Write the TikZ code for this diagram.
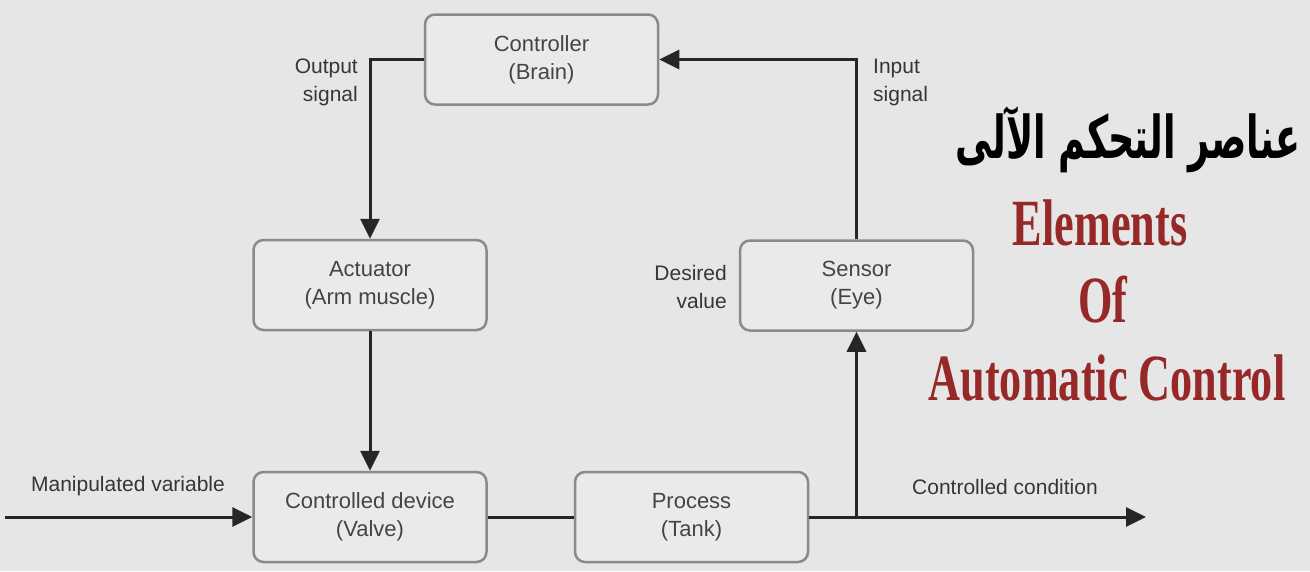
\documentclass[tikz,border=0pt]{standalone}
\usepackage{fontspec}
\setmainfont{Liberation Sans}
\newfontfamily\titlefont{Liberation Serif}
\newfontfamily\arabicfont[Script=Arabic]{DejaVu Sans}
\TeXXeTstate=1
\usetikzlibrary{arrows.meta}
\definecolor{bg}{HTML}{E6E6E6}
\definecolor{boxfill}{HTML}{EAEAEA}
\definecolor{boxline}{HTML}{8A8A8A}
\definecolor{boxtext}{HTML}{444444}
\definecolor{lbltext}{HTML}{363636}
\definecolor{wire}{HTML}{262626}
\definecolor{titlered}{HTML}{962828}
\tikzset{
  blockbox/.style={draw=boxline, fill=boxfill, line width=2.5pt, rounded corners=10pt,
    minimum width=233pt, minimum height=90pt, align=center, text=boxtext,
    font=\fontsize{22}{28}\selectfont, inner sep=0pt},
  lbl/.style={text=lbltext, font=\fontsize{21}{28}\selectfont, inner sep=0pt},
  wireline/.style={draw=wire, line width=3pt},
  arr/.style={wireline, -{Triangle[length=20pt,width=19pt]}},
  engtitle/.style={text=titlered, font=\titlefont\bfseries\fontsize{66}{70}\selectfont, inner sep=0pt, anchor=base}
}
\begin{document}
\begin{tikzpicture}[x=1pt,y=-1pt]
\fill[bg] (0,0) rectangle (1310,571);
\useasboundingbox (0,0) rectangle (1310,571);

\node[blockbox] (ctrl) at (541.5,59.5) {Controller\\(Brain)};
\node[blockbox] (act) at (370,285) {Actuator\\(Arm muscle)};
\node[blockbox] (sens) at (856.5,285.5) {Sensor\\(Eye)};
\node[blockbox] (cd) at (370,517) {Controlled device\\(Valve)};
\node[blockbox] (proc) at (691.5,517) {Process\\(Tank)};

\coordinate (inlet) at (5,517);
\coordinate (outlet) at (1146,517);
\coordinate (branch) at (sens.south |- proc.east);

\draw[arr] (inlet) -- (cd.west);
\draw[wireline] (cd.east) -- (proc.west);
\draw[arr] (proc.east) -- (outlet);
\draw[arr] (branch) -- (sens.south);
\draw[arr] (sens.north) |- (ctrl.east);
\draw[arr] (ctrl.west) -| (act.north);
\draw[arr] (act.south) -- (cd.north);

\node[lbl, align=right, anchor=east] (outsig) at (358,82) {Output\\signal};
\node[lbl, align=left, anchor=west] (insig) at (873,82) {Input\\signal};
\node[lbl, align=right, anchor=east] (desval) at (727,287) {Desired\\value};
\node[lbl] (manvar) at (128,486) {Manipulated variable};
\node[lbl] (ccond) at (1005,487) {Controlled condition};

\node[inner sep=0pt] (artitle) at (1128,140) {\resizebox{345pt}{52pt}{\arabicfont\bfseries\fontsize{40}{44}\selectfont\beginR عناصر التحكم الآلى\endR}};
\node[engtitle] (t1) at (1100,245) {\scalebox{0.67}[1]{Elements}};
\node[engtitle] (t2) at (1103,322) {\scalebox{0.67}[1]{Of}};
\node[engtitle] (t3) at (1107,400) {\scalebox{0.67}[1]{Automatic Control}};
\end{tikzpicture}
\end{document}
